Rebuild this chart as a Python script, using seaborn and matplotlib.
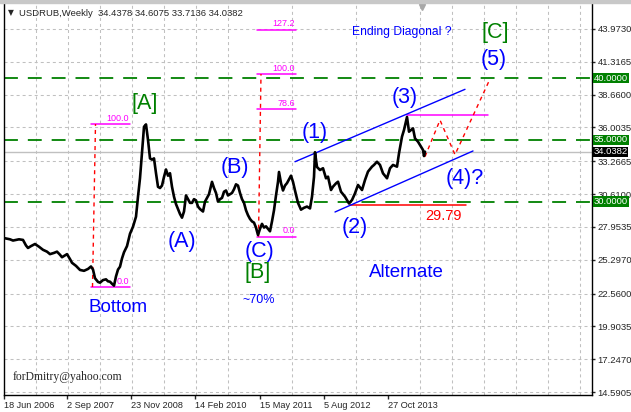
import numpy as np
import pandas as pd
import matplotlib
matplotlib.use("Agg")
import matplotlib.pyplot as plt
import matplotlib.transforms as mtransforms
from matplotlib.patches import Rectangle
import seaborn as sns

# weekly USDRUB closes, x = weeks since 18 Jun 2006
start = pd.Timestamp("2006-06-18")
weeks = [0, 3, 6, 9, 12, 15, 19, 22, 24, 27, 31, 35, 39, 43, 46, 50, 53, 56, 58, 61,
         63, 66, 68, 72, 76, 80, 84, 87, 89, 91, 94, 96, 99, 102, 104, 106, 108, 110, 112, 114,
         116, 118, 120, 123, 126, 129, 132, 134, 136, 138, 139, 140, 142, 143, 144, 146, 148, 150, 152, 154,
         156, 158, 160, 162, 164, 166, 168, 170, 172, 174, 176, 178, 180, 182, 184, 186, 188, 190, 192, 194,
         196, 199, 201, 203, 205, 208, 210, 212, 214, 216, 218, 220, 222, 224, 226, 228, 230, 232, 234, 236,
         238, 240, 242, 244, 246, 248, 250, 252, 254, 256, 258, 260, 262, 264, 266, 268, 270, 272, 274, 275,
         277, 279, 281, 283, 285, 287, 289, 291, 294, 297, 300, 303, 306, 308, 310, 311, 313, 316, 319, 322,
         324, 327, 329, 332, 334, 337, 341, 345, 348, 351, 354, 358, 361, 364, 368, 370, 373, 376, 379, 383,
         386, 389, 393, 395, 398, 400, 403, 405, 409, 411, 414, 417, 419, 420, 421]
close = [27.05, 27.00, 26.95, 26.85, 26.90, 26.95, 26.90, 26.45, 26.25, 26.40, 26.57, 26.35, 26.10, 25.95, 25.75, 25.85, 25.95, 25.70, 25.50, 25.65,
         25.75, 25.35, 25.05, 24.80, 24.47, 24.40, 24.55, 24.75, 24.50, 23.80, 23.50, 23.44, 23.65, 23.71, 23.55, 23.52, 23.35, 23.20, 23.95, 24.50,
         24.73, 25.40, 25.90, 26.40, 27.40, 27.97, 28.78, 30.40, 31.90, 33.90, 35.00, 36.06, 36.25, 35.60, 35.00, 33.50, 33.40, 33.50, 32.30, 31.20,
         31.10, 31.30, 32.00, 32.60, 32.10, 32.30, 31.20, 30.40, 29.80, 29.40, 29.00, 28.70, 29.20, 30.50, 30.20, 29.90, 29.90, 30.20, 30.10, 29.60,
         29.40, 29.20, 30.00, 30.30, 30.60, 31.60, 31.10, 30.70, 30.00, 30.20, 30.30, 30.80, 30.90, 30.50, 30.60, 30.70, 31.00, 31.40, 31.30, 30.70,
         30.20, 29.90, 29.30, 28.90, 28.60, 28.40, 28.30, 27.90, 27.30, 27.80, 28.20, 27.90, 28.00, 27.80, 27.60, 28.40, 29.30, 30.50, 31.60, 32.40,
         31.50, 30.90, 31.30, 31.50, 31.80, 32.10, 31.60, 30.90, 29.90, 29.35, 29.50, 29.60, 29.45, 30.40, 32.00, 34.00, 32.80, 32.56, 32.70, 31.89,
         32.02, 30.94, 31.21, 31.48, 31.61, 30.80, 30.40, 29.85, 30.13, 30.67, 31.35, 30.94, 31.75, 32.43, 32.83, 32.97, 33.23, 32.97, 32.29, 31.89,
         32.70, 32.97, 32.83, 33.91, 35.26, 35.80, 36.85, 35.66, 35.93, 35.12, 34.85, 34.45, 34.18, 33.69, 34.04]

tick_dates = ["2006-06-18", "2007-09-02", "2008-11-23", "2010-02-14", "2011-05-15", "2012-08-05", "2013-10-27"]
tick_labels = ["18 Jun 2006", "2 Sep 2007", "23 Nov 2008", "14 Feb 2010", "15 May 2011", "5 Aug 2012", "27 Oct 2013"]
price_ticks = [43.9730, 41.3165, 38.6600, 36.0035, 33.2665, 30.6100, 27.9535, 25.2970, 22.5600, 19.9035, 17.2470, 14.5905]
levels = [40.0, 35.0, 30.0]
last_price = 34.0382
header = "USDRUB,Weekly  34.4378 34.6075 33.7136 34.0382"

# fibonacci tools: (level text, price) and their anchor lines
fib1_weeks = [87, 126]
fib1 = [("100.0", 36.28), ("0.0", 23.09)]
fib1_anchor = ([88.5, 91.5], [23.09, 36.28])
fib2_weeks = [253, 292]
fib2 = [("127.2", 43.93), ("100.0", 40.33), ("78.6", 37.51), ("0.0", 27.16)]
fib2_anchor = ([254.5, 257], [27.16, 40.33])
w3_level = ([403, 484], 36.98)
w2_level = ([346, 462], 29.76)
upper_channel = ([291, 461], [33.23, 39.09])
lower_channel = ([331, 469], [29.16, 34.10])
forecast_weeks = [421, 436, 451, 486]
forecast_price = [33.64, 36.60, 33.80, 39.93]

wave_text = ["[A]", "(A)", "(B)", "(C)", "[B]", "(1)", "(2)", "(3)", "(4)?", "(5)", "[C]"]
wave_weeks = [141, 178, 231, 255, 254, 311, 351, 401, 461, 490, 491]
wave_price = [37.98, 26.81, 32.80, 26.00, 24.30, 35.60, 27.87, 38.39, 31.91, 41.54, 43.73]

sns.set_style("white")
plt.rcParams["font.family"] = ["Liberation Sans", "DejaVu Sans"]

W, H = 631, 412
fig = plt.figure(figsize=(W / 100, H / 100), dpi=100)
fig.patch.set_facecolor("white")
fig.patches.append(Rectangle((0, 1 - 3 / H), 1, 3 / H, transform=fig.transFigure,
                             color="#c8c8c8", zorder=0))
ax = fig.add_axes([3.5 / W, 17 / H, 588.5 / W, 391.5 / H])

blue = "#0000ff"
green = "#008000"
magenta = "#ff00ff"
red = "#ff0000"
dot = (0, (2.9, 2.9))

ax.axhline(last_price, color="#c0c0c0", lw=1, zorder=1)
for lv in levels:
    ax.axhline(lv, color=green, lw=1.3, ls=(0, (7.7, 5.5)), zorder=1.5)

sns.lineplot(x=weeks, y=close, color="black", lw=1.9, ax=ax, zorder=3)

# fib objects
for txt, p in fib1:
    ax.plot(fib1_weeks, [p, p], color=magenta, lw=1.1)
    ax.text(fib1_weeks[1] - 1, p + 0.1, txt, color=magenta, fontsize=6.5, ha="right", va="bottom")
ax.plot(*fib1_anchor, color=red, lw=1, ls=dot)
for txt, p in fib2:
    ax.plot(fib2_weeks, [p, p], color=magenta, lw=1.1)
    ax.text(fib2_weeks[1] - 1, p + 0.1, txt, color=magenta, fontsize=6.5, ha="right", va="bottom")
ax.plot(*fib2_anchor, color=red, lw=1, ls=dot)

ax.plot(w3_level[0], [w3_level[1]] * 2, color=magenta, lw=1.1)
ax.plot(w2_level[0], [w2_level[1]] * 2, color=red, lw=1.1)
ax.text(w2_level[0][1] - 4, w2_level[1] - 0.35, "29.79", color=red, fontsize=10.5, ha="right", va="top")

ax.plot(*upper_channel, color=blue, lw=1)
ax.plot(*lower_channel, color=blue, lw=1)
ax.plot(forecast_weeks, forecast_price, color=red, lw=1, ls=dot)

for t, wk, p in zip(wave_text, wave_weeks, wave_price):
    col = green if t.startswith("[") else blue
    ax.text(wk, p, t, color=col, fontsize=15.5, ha="center", va="center")

ax.text(114, 21.47, "Bottom", color=blue, fontsize=13.5, ha="center", va="center")
ax.text(402, 24.30, "Alternate", color=blue, fontsize=13.5, ha="center", va="center")
ax.text(255, 22.04, "~70%", color=blue, fontsize=9, ha="center", va="center")
ax.text(398, 43.73, "Ending Diagonal ?", color=blue, fontsize=8.7, ha="center", va="center")

ax.text(0.0161, 0.046, "forDmitry@yahoo.com", transform=ax.transAxes, fontsize=8.4,
        family=["Liberation Serif", "DejaVu Serif"], ha="left", va="center")
ax.text(0.0119, 0.9757, "\u25bc", transform=ax.transAxes, fontsize=5.5,
        family=["DejaVu Sans"], ha="center", va="center")
ax.text(0.0263, 0.9757, header, transform=ax.transAxes, fontsize=6.8, ha="left", va="center")

# chart shift marker
ax.plot([418], [0.992], transform=mtransforms.blended_transform_factory(ax.transData, ax.transAxes),
        marker="v", ms=5, color="#a8a8a8", clip_on=False)

# axes
ax.set_xlim(-0.5, 588)
ax.set_ylim(14.348, 46.037)
tick_weeks = (pd.to_datetime(tick_dates) - start).days / 7
ax.set_xticks(tick_weeks)
ax.set_xticklabels(tick_labels, ha="left")
ax.set_xticks(np.arange(0, 588, 32), minor=True)
ax.yaxis.tick_right()
ax.set_yticks(price_ticks)
ax.set_yticklabels([f"{v:.4f}" for v in price_ticks])
ax.tick_params(axis="x", which="major", length=3, width=1, pad=1, labelsize=6.6, direction="out", bottom=True)
ax.tick_params(axis="x", which="minor", length=0)
ax.tick_params(axis="y", length=2.5, width=1, pad=1.5, labelsize=6.8, direction="out", right=True)
ax.grid(which="minor", axis="x", color="#c0c0c0", lw=0.75, ls=dot)
ax.grid(which="major", axis="y", color="#c0c0c0", lw=0.75, ls=dot)
ax.grid(which="major", axis="x", visible=False)
ax.set_axisbelow(True)
for s in ["left", "bottom", "right"]:
    ax.spines[s].set_color("black")
    ax.spines[s].set_linewidth(1)
ax.spines["top"].set_visible(False)

# price boxes on the right scale
tr = mtransforms.blended_transform_factory(ax.transAxes, ax.transData)
for lv in levels:
    ax.text(1.003, lv, f"{lv:.4f}", transform=tr, fontsize=6.8, color="white", ha="left", va="center",
            bbox=dict(boxstyle="square,pad=0.08", fc=green, ec="none"), clip_on=False)
ax.text(1.003, last_price, f"{last_price:.4f}", transform=tr, fontsize=6.8, color="white", ha="left",
        va="center", bbox=dict(boxstyle="square,pad=0.05", fc="black", ec="none"), clip_on=False)

fig.savefig("out.png", dpi=100)
